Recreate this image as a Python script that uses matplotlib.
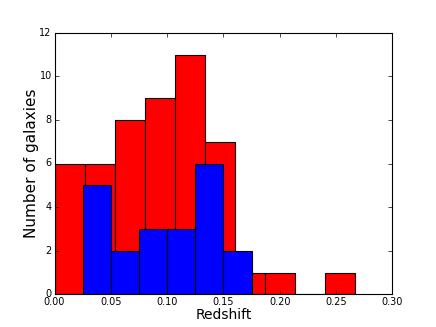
import matplotlib
matplotlib.use("Agg")
import matplotlib.pyplot as plt
import numpy as np

# ── Data ──────────────────────────────────────────────────────────────
red_edges = np.linspace(0.0, 0.2667, 11)
red_counts = [6, 6, 8, 9, 11, 7, 1, 1, 0, 1]
blue_edges = np.linspace(0.025, 0.175, 7)
blue_counts = [5, 2, 3, 3, 6, 2]

# ── Style ─────────────────────────────────────────────────────────────
plt.style.use("classic")
plt.rcParams.update({
    "xtick.labelsize": 7,
    "ytick.labelsize": 7,
    "axes.linewidth": 0.8,
    "xtick.major.size": 3,
    "ytick.major.size": 3,
    "xtick.major.pad": 2,
    "ytick.major.pad": 2,
})

fig = plt.figure(figsize=(4.36, 3.27), dpi=100)
ax = fig.add_axes([0.125, 0.1, 0.775, 0.8])

red_centers = (red_edges[:-1] + red_edges[1:]) / 2
blue_centers = (blue_edges[:-1] + blue_edges[1:]) / 2
ax.hist(red_centers, bins=red_edges, weights=red_counts,
        color="red", edgecolor="black", linewidth=0.8)
ax.hist(blue_centers, bins=blue_edges, weights=blue_counts,
        color="blue", edgecolor="black", linewidth=0.8)

ax.set_xlim(0, 0.30)
ax.set_ylim(0, 12)
ax.set_xticks(np.arange(0, 0.31, 0.05))
ax.set_xticklabels([f"{v:.2f}" for v in np.arange(0, 0.31, 0.05)])
ax.set_yticks(range(0, 13, 2))
ax.set_xlabel("Redshift", fontsize=10, labelpad=1)
ax.set_ylabel("Number of galaxies", fontsize=11, labelpad=0)

fig.savefig("out.png", dpi=100)
